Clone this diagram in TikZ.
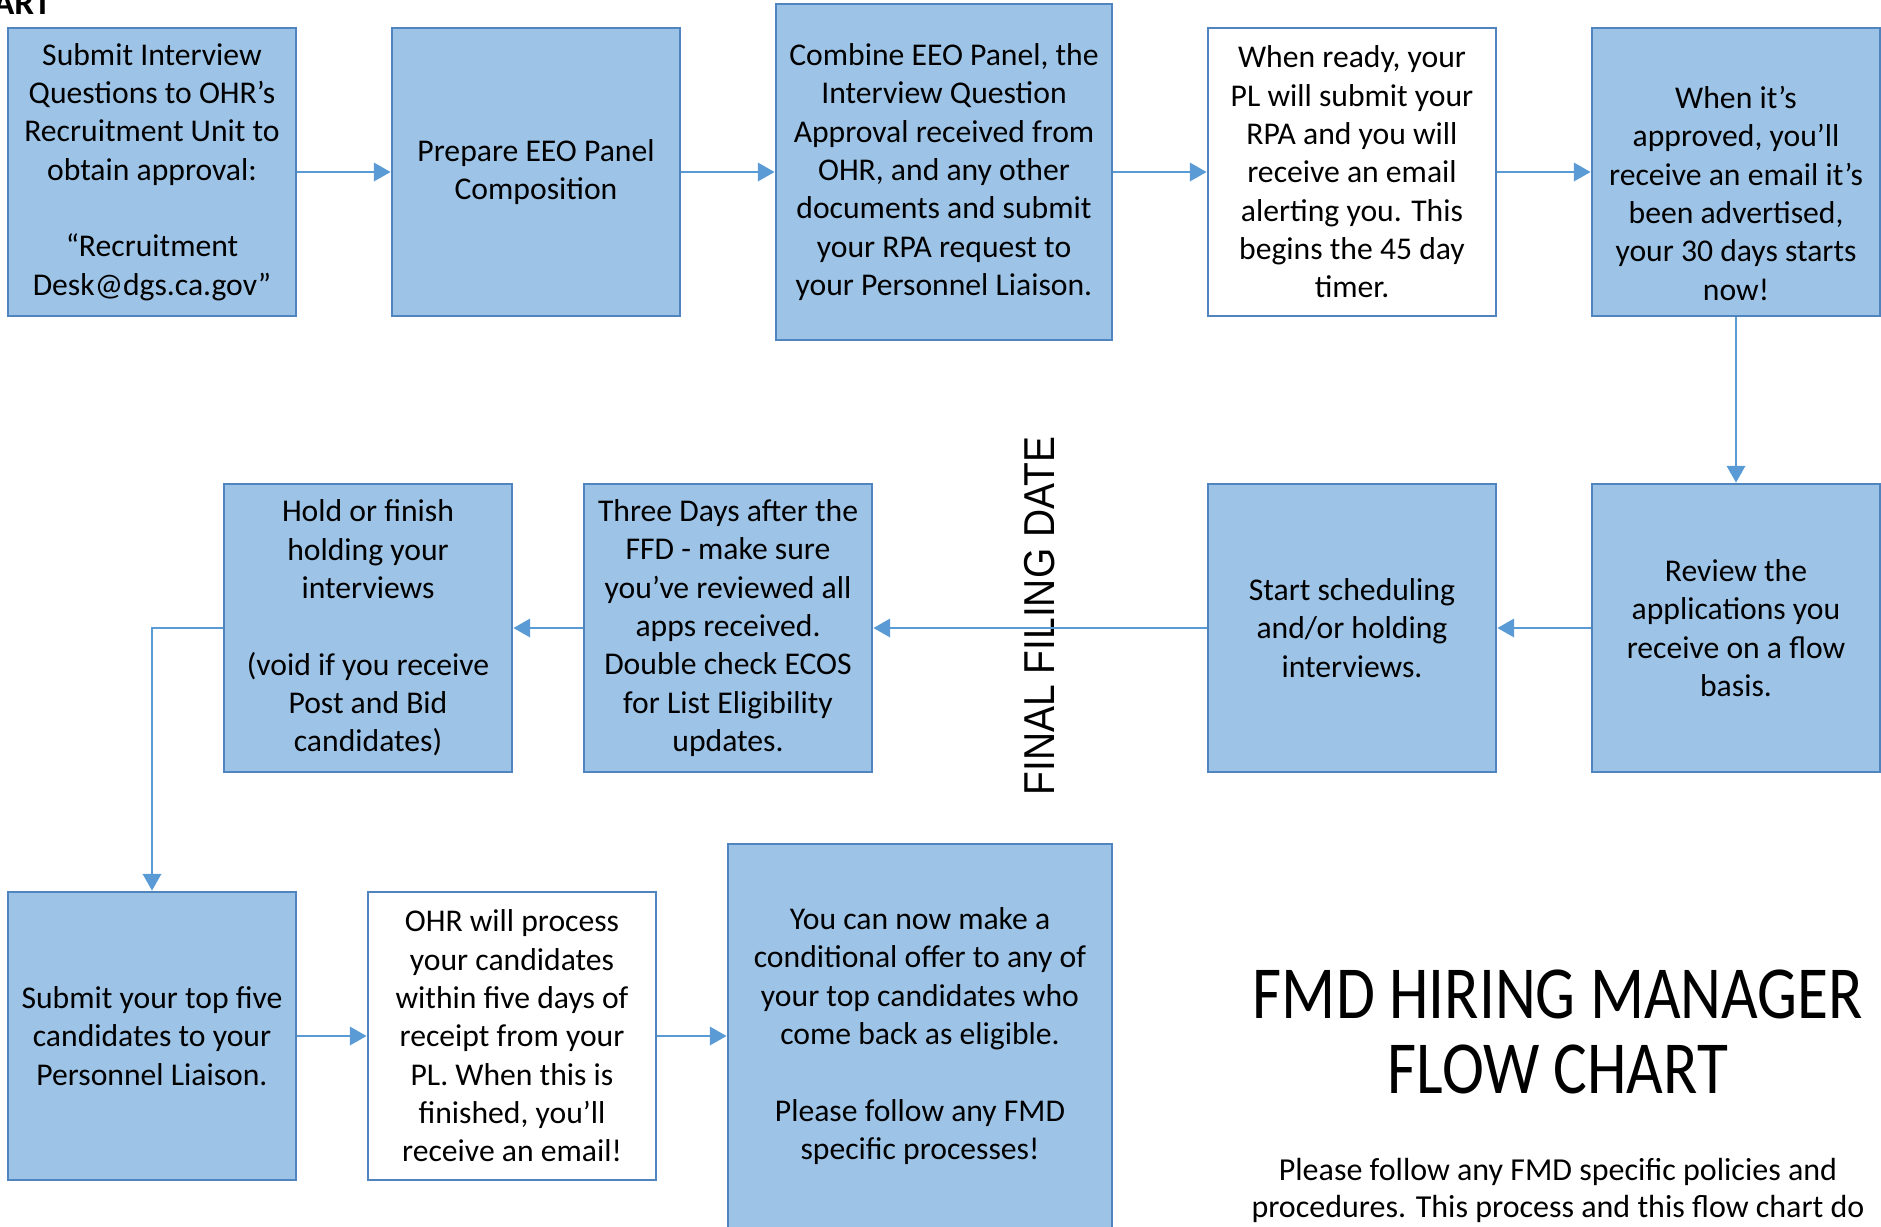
\documentclass[tikz,border=0pt]{standalone}
\usepackage{fontspec}
\setmainfont{Carlito}
\newfontfamily\titlefont[FakeStretch=0.845]{Carlito}
\newfontfamily\datefont[FakeStretch=0.9]{Liberation Sans}
\usetikzlibrary{arrows.meta}
\definecolor{boxfill}{RGB}{157,195,230}
\definecolor{boxline}{RGB}{80,132,190}
\definecolor{arrowline}{RGB}{91,155,213}

\begin{document}
\begin{tikzpicture}[x=0.01cm,y=-0.01cm,
    bluebox/.style={draw=boxline, line width=0.7pt, fill=boxfill,
      minimum width=2.88cm, minimum height=2.88cm, inner sep=0pt,
      align=center, font=\fontsize{9}{10.9}\selectfont},
    whitebox/.style={bluebox, fill=white},
    flowarrow/.style={draw=arrowline, line width=0.8pt,
      -{Triangle[length=4.8pt,width=5.2pt]}}]
  \useasboundingbox (0,0) rectangle (1881,1226);
  \clip (0,0) rectangle (1881,1226);

  \def\rowa{172}
  \def\rowb{628}
  \def\rowc{1036}

  \node[anchor=base east, inner sep=0pt, font=\bfseries\fontsize{10}{12}\selectfont] (art) at (52,14) {ART};

  % top row
  \node[bluebox] (ask) at (152,\rowa) {Submit Interview\\Questions to OHR’s\\Recruitment Unit to\\obtain approval:\\[10.9pt]“Recruitment\\Desk@dgs.ca.gov”};
  \node[bluebox] (panel) at (536,\rowa) {Prepare EEO Panel\\Composition};
  \node[bluebox, minimum width=3.36cm, minimum height=3.36cm] (combine) at (944,\rowa) {Combine EEO Panel, the\\Interview Question\\Approval received from\\OHR, and any other\\documents and submit\\your RPA request to\\your Personnel Liaison.};
  \node[whitebox] (ready) at (1352,\rowa) {When ready, your\\PL will submit your\\RPA and you will\\receive an email\\alerting you. This\\begins the 45 day\\timer.};
  \node[bluebox] (approved) at (1736,\rowa) {\strut\\When it’s\\approved, you’ll\\receive an email it’s\\been advertised,\\your 30 days starts\\now!};

  % middle row
  \node[bluebox] (review) at (1736,\rowb) {Review the\\applications you\\receive on a flow\\basis.};
  \node[bluebox] (schedule) at (1352,\rowb) {Start scheduling\\and/or holding\\interviews.};
  \node[bluebox] (threedays) at (728,\rowb) {Three Days after the\\FFD - make sure\\you’ve reviewed all\\apps received.\\Double check ECOS\\for List Eligibility\\updates.};
  \node[bluebox] (hold) at (368,\rowb) {Hold or finish\\holding your\\interviews\\[10.9pt](void if you receive\\Post and Bid\\candidates)};

  \node[rotate=90, inner sep=0pt, font=\datefont\fontsize{12.3}{14}\selectfont] (ffd) at (1040,616) {FINAL FILING DATE};

  % bottom row
  \node[bluebox] (topfive) at (152,\rowc) {Submit your top five\\candidates to your\\Personnel Liaison.};
  \node[whitebox] (process) at (512,\rowc) {OHR will process\\your candidates\\within five days of\\receipt from your\\PL. When this is\\finished, you’ll\\receive an email!};
  \node[bluebox, minimum width=3.84cm, minimum height=3.84cm] (offer) at (920,\rowc) {You can now make a\\conditional offer to any of\\your top candidates who\\come back as eligible.\\[10.9pt]Please follow any FMD\\specific processes!};

  \node[anchor=base, inner sep=0pt, font=\titlefont\fontsize{21.3}{26}\selectfont] (titlea) at (1558,1018) {FMD HIRING MANAGER};
  \node[anchor=base, inner sep=0pt, font=\titlefont\fontsize{21.3}{26}\selectfont] (titleb) at (1558,1093) {FLOW CHART};
  \node[anchor=base, inner sep=0pt, font=\fontsize{9.1}{10.5}\selectfont] (notea) at (1558,1180) {Please follow any FMD specific policies and};
  \node[anchor=base, inner sep=0pt, font=\fontsize{9.1}{10.5}\selectfont] (noteb) at (1558,1217) {procedures. This process and this flow chart do};

  \foreach \from/\to in {ask/panel, panel/combine, combine/ready, ready/approved, approved/review,
      review/schedule, schedule/threedays, threedays/hold, topfive/process, process/offer}
    \draw[flowarrow] (\from) -- (\to);
  \draw[flowarrow] (hold) -| (topfive);
\end{tikzpicture}
\end{document}
